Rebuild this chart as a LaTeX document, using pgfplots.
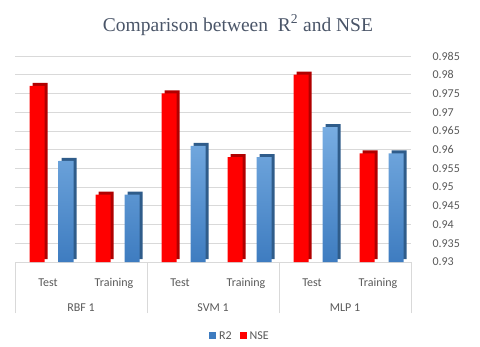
\documentclass[border=0pt]{standalone}
\usepackage{fontspec}
\setmainfont{Carlito}
\newfontfamily\titlefont{Liberation Serif}
\usepackage{pgfplots}
\usepackage{pgfplotstable}
\pgfplotsset{compat=1.18}

\definecolor{txtgray}{HTML}{595959}
\definecolor{gridgray}{HTML}{D9D9D9}
\definecolor{titleblue}{HTML}{4A5568}
\definecolor{nsered}{HTML}{FF0000}
\definecolor{nsedark}{HTML}{B00000}
\definecolor{r2top}{HTML}{78ADE2}
\definecolor{r2bot}{HTML}{3E7CC0}
\definecolor{r2dark}{HTML}{2F5C8A}

% x: 0/1 = RBF 1 test/training, 2/3 = SVM 1, 4/5 = MLP 1
\pgfplotstableread{
x nse r2
0 0.977 0.957
1 0.948 0.948
2 0.975 0.961
3 0.958 0.958
4 0.980 0.966
5 0.959 0.959
}\scores

\begin{document}
\begin{tikzpicture}
\begin{axis}[
  scale only axis, width=396pt, height=206pt,
  xmin=-0.5, xmax=5.5, ymin=0.93, ymax=0.985,
  clip mode=individual,
  axis x line*=bottom, axis y line*=right,
  y axis line style={draw=none},
  x axis line style={draw=gridgray, line width=0.8pt},
  major tick length=0pt,
  ytick={0.93,0.935,0.94,0.945,0.95,0.955,0.96,0.965,0.97,0.975,0.98,0.985},
  yticklabel pos=right,
  ymajorgrids, grid style={draw=gridgray, line width=0.7pt},
  xtick={0,1,2,3,4,5},
  xticklabels={Test,Training,Test,Training,Test,Training},
  extra x ticks={-0.5,1.5,3.5,5.5},
  extra x tick labels={},
  extra x tick style={major tick length=51pt, tick align=outside,
    tick style={draw=gridgray, line width=0.8pt}, grid=none},
  tick label style={font=\fontsize{12}{14}\selectfont, text=txtgray},
  yticklabel style={anchor=west, xshift=18pt,
    /pgf/number format/fixed, /pgf/number format/precision=3},
  xticklabel style={yshift=-13pt},
  /pgf/number format/assume math mode=true,
  legend style={draw=none, at={(0.568,-0.359)}, anchor=center,
    font=\fontsize{12}{14}\selectfont, text=txtgray,
    /tikz/every odd column/.append style={column sep=1pt},
    /tikz/every even column/.append style={column sep=6pt}},
  legend columns=2,
  legend image code/.code={\fill[#1] (0pt,-3.5pt) rectangle (7pt,3.5pt);},
]
\addlegendimage{fill=r2bot, draw=none}
\addlegendentry{R2}
\addlegendimage{fill=nsered, draw=none}
\addlegendentry{NSE}

% depth faces first, then the front faces
\addplot[ybar, bar width=15pt, bar shift=-11pt, fill=nsedark, draw=none,
  xshift=3pt, yshift=3pt, forget plot] table[x=x, y=nse] {\scores};
\addplot[ybar, bar width=15pt, bar shift=-11pt, fill=nsered, draw=none,
  forget plot] table[x=x, y=nse] {\scores};
\addplot[ybar, bar width=15pt, bar shift=18pt, fill=r2dark, draw=none,
  xshift=3pt, yshift=3pt, forget plot] table[x=x, y=r2] {\scores};
\addplot[ybar, bar width=15pt, bar shift=18pt, top color=r2top,
  bottom color=r2bot, draw=none, forget plot] table[x=x, y=r2] {\scores};

\node[font=\fontsize{12}{14}\selectfont, text=txtgray] at (axis cs:0.5,0.93) [yshift=-46pt] {RBF 1};
\node[font=\fontsize{12}{14}\selectfont, text=txtgray] at (axis cs:2.5,0.93) [yshift=-46pt] {SVM 1};
\node[font=\fontsize{12}{14}\selectfont, text=txtgray] at (axis cs:4.5,0.93) [yshift=-46pt] {MLP 1};

\node[font=\titlefont\fontsize{19.5}{22}\selectfont, text=titleblue]
  at (rel axis cs:0.563,1.150) {Comparison between\ \ R\textsuperscript{2} and NSE};

\path (rel axis cs:-0.0379,-0.4126) rectangle (rel axis cs:1.1742,1.2718);
\end{axis}
\end{tikzpicture}
\end{document}
